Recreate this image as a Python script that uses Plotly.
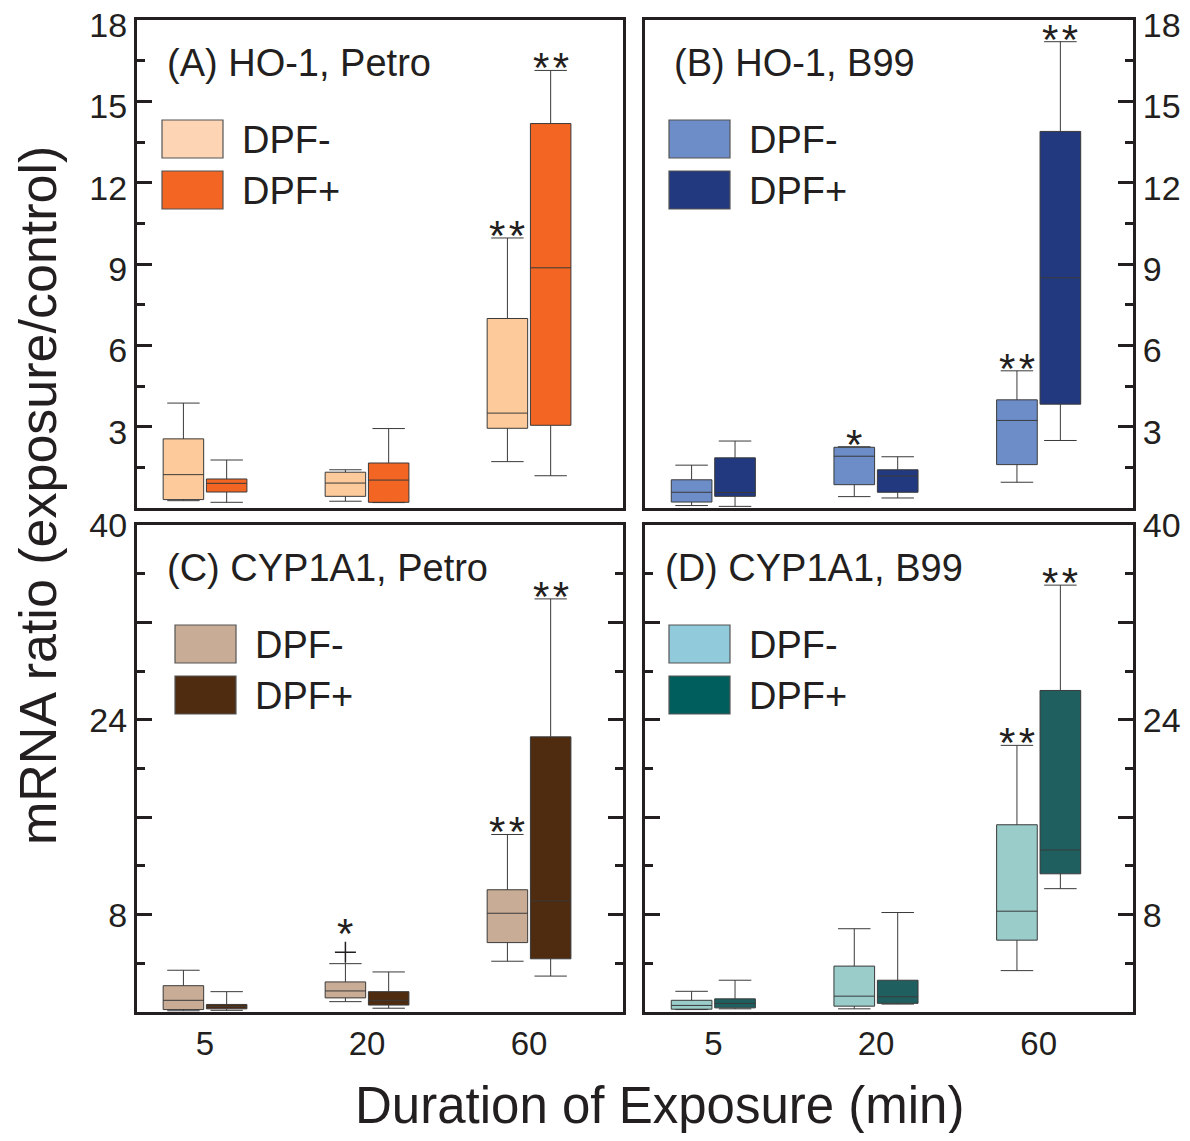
import plotly.graph_objects as go

# page is drawn inside the default 8px body margin of the html page
OFF = 8
W, H = 1190 - 2 * OFF, 1141 - 2 * OFF

# ---------------- data ----------------
categories = ["5", "20", "60"]
group_names = ["DPF-", "DPF+"]

# each row: [lower whisker, Q1, median, Q3, upper whisker] for durations 5, 20, 60 min
ho_petro_neg = [[0.27, 0.31, 1.23, 2.55, 3.87], [0.25, 0.43, 0.92, 1.32, 1.41], [1.71, 2.94, 3.50, 6.99, 9.96]]
ho_petro_pos = [[0.21, 0.59, 0.91, 1.07, 1.77], [0.20, 0.21, 1.03, 1.66, 2.93], [1.19, 3.05, 8.86, 14.18, 16.14]]
ho_b99_neg = [[0.09, 0.22, 0.58, 1.04, 1.58], [0.42, 0.86, 1.91, 2.24, 2.26], [0.95, 1.60, 3.23, 3.99, 5.06]]
ho_b99_pos = [[0.06, 0.43, 0.57, 1.85, 2.47], [0.37, 0.58, 1.18, 1.41, 1.89], [2.49, 3.83, 8.49, 13.89, 17.20]]
cyp_petro_neg = [[0.10, 0.20, 0.96, 2.16, 3.43], [0.85, 1.16, 1.73, 2.47, 3.97], [4.17, 5.70, 8.11, 10.04, 14.58]]
cyp_petro_pos = [[0.14, 0.26, 0.45, 0.62, 1.67], [0.31, 0.57, 0.96, 1.67, 3.29], [2.95, 4.37, 9.13, 22.60, 33.93]]
cyp_b99_neg = [[0.20, 0.23, 0.54, 0.96, 1.70], [0.26, 0.48, 1.30, 3.77, 6.84], [3.40, 5.90, 8.28, 15.38, 21.90]]
cyp_b99_pos = [[0.26, 0.34, 0.71, 1.08, 2.61], [0.65, 0.71, 1.25, 2.61, 8.17], [10.13, 11.35, 13.30, 26.41, 35.06]]

# outlier points of CYP1A1/Petro, DPF- (per duration)
cyp_petro_neg_outliers = [[], [4.9], []]

# significance marks (per duration)
ho_petro_sig_neg = ["", "", "**"]
ho_petro_sig_pos = ["", "", "**"]
ho_b99_sig_neg = ["", "*", "**"]
ho_b99_sig_pos = ["", "", "**"]
cyp_petro_sig_neg = ["", "*", "**"]
cyp_petro_sig_pos = ["", "", "**"]
cyp_b99_sig_neg = ["", "", "**"]
cyp_b99_sig_pos = ["", "", "**"]

panel_titles = ["(A) HO-1, Petro", "(B) HO-1, B99", "(C) CYP1A1, Petro", "(D) CYP1A1, B99"]

top_ticks = [3, 6, 9, 12, 15, 18]
top_minor = [1.5, 4.5, 7.5, 10.5, 13.5, 16.5]
inner_major = [4.22, 8.44, 12.66, 16.88]
inner_minor = [2.11, 6.33, 10.55, 14.77]
bottom_ticks = [8, 16, 24, 32, 40]
bottom_ticktext = ["8", "", "24", "", "40"]
bottom_minor = [4, 12, 20, 28, 36]

# ---------------- style ----------------
FONT = "Liberation Sans, Arial, sans-serif"
INK = "#231F20"
box_colors = [("#FDCB9B", "#F26522"), ("#6C8DC8", "#22397F"),
              ("#C9AC95", "#4F2B10"), ("#9ACCCA", "#1F5F5F")]
legend_colors = [("#FDD5B5", "#F26522"), ("#6C8DC8", "#22397F"),
                 ("#C9AC95", "#4F2B10"), ("#90CADB", "#005F5C")]

panels_px = [  # x0, x1, y0, y1 in page pixels
    (137, 623, 20, 508), (645, 1133, 20, 508),
    (137, 623, 525, 1012), (645, 1133, 525, 1012),
]
XRANGE = [-0.42, 2.58]
BOXGAP = 0.466
BOXGROUPGAP = 0.064
GROUP_OFFSET = 0.25 * (1 - BOXGAP)   # centre offset of each box within a group


def px_x(p):
    return (p - OFF) / W


def px_y(p):
    return 1 - (p - OFF) / H


panel_data = [
    (ho_petro_neg, ho_petro_pos, [[], [], []], ho_petro_sig_neg, ho_petro_sig_pos),
    (ho_b99_neg, ho_b99_pos, [[], [], []], ho_b99_sig_neg, ho_b99_sig_pos),
    (cyp_petro_neg, cyp_petro_pos, cyp_petro_neg_outliers, cyp_petro_sig_neg, cyp_petro_sig_pos),
    (cyp_b99_neg, cyp_b99_pos, [[], [], []], cyp_b99_sig_neg, cyp_b99_sig_pos),
]

fig = go.Figure()
annotations = []
shapes = []

for p, (neg, pos, outl, sneg, spos) in enumerate(panel_data):
    suffix = "" if p == 0 else str(p + 1)
    xa, ya = "x" + suffix, "y" + suffix
    for g, (stats, col) in enumerate([(neg, box_colors[p][0]), (pos, box_colors[p][1])]):
        fig.add_trace(go.Box(
            x=categories,
            lowerfence=[s[0] for s in stats],
            q1=[s[1] for s in stats],
            median=[s[2] for s in stats],
            q3=[s[3] for s in stats],
            upperfence=[s[4] for s in stats],
            orientation="v",
            boxpoints=False,
            name=group_names[g],
            offsetgroup=group_names[g],
            alignmentgroup="panel%d" % p,
            fillcolor=col,
            line=dict(color="#3A3A3A", width=1),
            whiskerwidth=0.8,
            showlegend=False,
            hoverinfo="skip",
            xaxis=xa, yaxis=ya,
        ))

    # outliers (drawn on a hidden linear x axis overlaying the category axis)
    ox, oy = [], []
    for i, vals in enumerate(outl):
        for v in vals:
            ox.append(i - GROUP_OFFSET)
            oy.append(v)
    if ox:
        fig.add_trace(go.Scatter(
            x=ox, y=oy, mode="markers", xaxis="x5", yaxis=ya,
            marker=dict(symbol="cross-thin", size=15, color=INK,
                        line=dict(color=INK, width=1.5)),
            showlegend=False, hoverinfo="skip"))

    # significance stars
    x0, x1, y0, y1 = panels_px[p]
    px_per_unit = (x1 - x0) / (XRANGE[1] - XRANGE[0])
    shift = GROUP_OFFSET * px_per_unit
    for g, (stats, sig) in enumerate([(neg, sneg), (pos, spos)]):
        for i, s in enumerate(sig):
            if not s:
                continue
            top = stats[i][4]
            extra = 0
            if g == 0 and outl[i]:
                top = max(top, max(outl[i]))
                extra = 16
            annotations.append(dict(
                x=i, y=top, xref=xa, yref=ya,
                xshift=(-shift if g == 0 else shift), yshift=-23 + extra,
                text="\u200a".join(s), showarrow=False,
                xanchor="center", yanchor="bottom",
                font=dict(family=FONT, size=42, color=INK)))

    # panel label
    lx = x0 + (28 if p in (0, 2) else 27 if p == 1 else 18)
    ly = y0 + 43
    annotations.append(dict(
        x=px_x(lx), y=px_y(ly), xref="paper", yref="paper",
        text=panel_titles[p], showarrow=False, xanchor="left", yanchor="middle",
        font=dict(family=FONT, size=38, color=INK)))

    # legend swatches
    sx0 = x0 + (25 if p in (0,) else 38 if p == 2 else 24)
    sy = y0 + 100
    for g in range(2):
        top_px = sy + g * 51
        shapes.append(dict(
            type="rect", xref="paper", yref="paper",
            x0=px_x(sx0), x1=px_x(sx0 + 61), y0=px_y(top_px + 38), y1=px_y(top_px),
            fillcolor=legend_colors[p][g], line=dict(color="#555555", width=1.2)))
        annotations.append(dict(
            x=px_x(sx0 + 78), y=px_y(top_px + 20), xref="paper", yref="paper",
            text=group_names[g], showarrow=False, xanchor="left", yanchor="middle",
            font=dict(family=FONT, size=38, color=INK)))

# axis titles
annotations.append(dict(
    x=px_x(38), y=px_y(496), xref="paper", yref="paper",
    text="mRNA ratio (exposure/control)", textangle=-90, showarrow=False,
    xanchor="center", yanchor="middle",
    font=dict(family=FONT, size=52, color=INK)))
annotations.append(dict(
    x=px_x(659), y=px_y(1105), xref="paper", yref="paper",
    text="Duration of Exposure (min)", showarrow=False,
    xanchor="center", yanchor="middle",
    font=dict(family=FONT, size=51, color=INK)))

layout = dict(
    width=W, height=H,
    margin=dict(l=0, r=0, t=0, b=0, autoexpand=False),
    paper_bgcolor="white", plot_bgcolor="white",
    boxmode="group", boxgap=BOXGAP, boxgroupgap=BOXGROUPGAP,
    showlegend=False,
    annotations=annotations, shapes=shapes,
    font=dict(family=FONT, color=INK),
)

for p in range(4):
    suffix = "" if p == 0 else str(p + 1)
    x0, x1, y0, y1 = panels_px[p]
    layout["xaxis" + suffix] = dict(
        domain=[px_x(x0), px_x(x1)], anchor="y" + suffix,
        type="category", categoryorder="array", categoryarray=categories,
        range=XRANGE, showline=True, linecolor=INK, linewidth=3, mirror=True,
        ticks="", showgrid=False, zeroline=False,
        showticklabels=(p >= 2), tickfont=dict(family=FONT, size=33, color=INK),
    )
    top = p < 2
    right = p in (1, 3)
    layout["yaxis" + suffix] = dict(
        domain=[px_y(y1), px_y(y0)], anchor="x" + suffix,
        side="right" if right else "left",
        range=[0, 18] if top else [0, 40],
        tickmode="array",
        tickvals=top_ticks if top else bottom_ticks,
        ticktext=[str(v) for v in top_ticks] if top else bottom_ticktext,
        ticks="inside", ticklen=15, tickwidth=3, tickcolor=INK,
        minor=dict(tickmode="array", tickvals=top_minor if top else bottom_minor,
                   ticks="inside", ticklen=8, tickwidth=3, tickcolor=INK, showgrid=False),
        showline=True, linecolor=INK, linewidth=3,
        mirror=True if top else "ticks",
        showgrid=False, zeroline=False,
        ticklabeloverflow="allow",
        ticklabelshift=5 if top else 0,
        tickfont=dict(family=FONT, size=34, color=INK),
    )

# hidden linear x axis used to place outlier markers over panel C
layout["xaxis5"] = dict(overlaying="x3", anchor="y3", range=XRANGE, visible=False,
                        showgrid=False, zeroline=False)

# inner-edge tick marks of the top panels
for name, over, anc, side in (("yaxis5", "y", "x", "right"), ("yaxis6", "y2", "x2", "left")):
    layout[name] = dict(
        overlaying=over, anchor=anc, side=side, range=[0, 18],
        tickmode="array", tickvals=inner_major, showticklabels=False,
        ticks="inside", ticklen=15, tickwidth=3, tickcolor=INK,
        minor=dict(tickmode="array", tickvals=inner_minor, ticks="inside",
                   ticklen=8, tickwidth=3, tickcolor=INK, showgrid=False),
        showline=False, showgrid=False, zeroline=False,
    )

fig.update_layout(**layout)
fig.write_html("out.html")
